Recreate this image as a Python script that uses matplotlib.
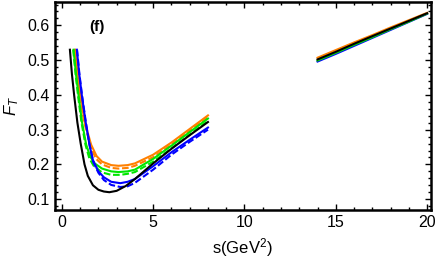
import matplotlib
matplotlib.use('Agg')
import matplotlib.pyplot as plt
from matplotlib.ticker import MultipleLocator

plt.rcParams['font.family'] = ['Liberation Sans', 'DejaVu Sans']
plt.rcParams['mathtext.fontset'] = 'custom'
plt.rcParams['mathtext.rm'] = 'Liberation Sans'
plt.rcParams['mathtext.it'] = 'Liberation Sans:italic'

# ---- data (s in GeV^2, F_T) ----
s_black = [0.44, 0.55, 0.67, 0.85, 1.03, 1.24, 1.42, 1.7, 2.0, 2.3, 2.6, 3.0, 3.5, 4.0, 5.0, 6.0, 7.0, 8.0]
F_black = [0.53, 0.46, 0.40, 0.32, 0.26, 0.200, 0.167, 0.140, 0.127, 0.122, 0.120, 0.124, 0.138, 0.158, 0.203, 0.245, 0.284, 0.322]

s_blue = [0.82, 0.95, 1.09, 1.3, 1.51, 1.7, 2.0, 2.3, 2.7, 3.2, 3.6, 4.0, 5.0, 6.0, 7.0, 8.0]
F_blue = [0.53, 0.46, 0.40, 0.322, 0.257, 0.212, 0.180, 0.163, 0.150, 0.146, 0.150, 0.158, 0.195, 0.235, 0.271, 0.306]
s_blue_d = [0.83, 0.96, 1.1, 1.31, 1.52, 1.72, 2.0, 2.3, 2.7, 3.2, 3.6, 4.0, 5.0, 6.0, 7.0, 8.0]
F_blue_d = [0.53, 0.46, 0.40, 0.322, 0.255, 0.207, 0.176, 0.155, 0.141, 0.135, 0.137, 0.147, 0.185, 0.228, 0.265, 0.300]

s_green = [0.64, 0.77, 0.91, 1.1, 1.33, 1.55, 1.79, 2.2, 2.7, 3.1, 3.6, 4.0, 5.0, 6.0, 7.0, 8.0]
F_green = [0.53, 0.46, 0.40, 0.322, 0.257, 0.223, 0.203, 0.188, 0.180, 0.178, 0.180, 0.185, 0.216, 0.254, 0.293, 0.332]
s_green_d = [0.62, 0.75, 0.88, 1.07, 1.29, 1.5, 1.75, 2.2, 2.7, 3.2, 3.6, 4.0, 5.0, 6.0, 7.0, 8.0]
F_green_d = [0.53, 0.46, 0.40, 0.322, 0.257, 0.218, 0.195, 0.177, 0.170, 0.170, 0.173, 0.178, 0.208, 0.246, 0.286, 0.325]

s_orange = [0.72, 0.86, 1.0, 1.25, 1.6, 1.9, 2.2, 2.7, 3.1, 3.6, 4.0, 5.0, 6.0, 7.0, 8.0]
F_orange = [0.53, 0.46, 0.40, 0.322, 0.257, 0.224, 0.208, 0.198, 0.196, 0.198, 0.203, 0.228, 0.263, 0.302, 0.341]
s_orange_d = [0.7, 0.84, 0.98, 1.22, 1.55, 1.85, 2.2, 2.7, 3.1, 3.6, 4.0, 5.0, 6.0, 7.0, 8.0]
F_orange_d = [0.53, 0.46, 0.40, 0.322, 0.257, 0.217, 0.200, 0.190, 0.188, 0.190, 0.196, 0.221, 0.257, 0.297, 0.337]

# high-s branch
s_high = [14, 15, 16, 17, 18, 19, 20]
F_high_black = [0.502, 0.524, 0.547, 0.569, 0.591, 0.613, 0.635]
F_high_orange = [0.507, 0.529, 0.551, 0.572, 0.594, 0.615, 0.636]
F_high_green = [0.499, 0.521, 0.544, 0.566, 0.589, 0.611, 0.634]
F_high_blue = [0.496, 0.518, 0.541, 0.564, 0.587, 0.610, 0.633]

orange = '#ff8000'
green = '#00e600'
blue = '#0000ff'
dash = (0, (3.2, 1.3))

fig = plt.figure(figsize=(4.36, 2.62), dpi=100)
ax = fig.add_axes([0.126, 0.2, 0.862, 0.792])

lw = 1.5
ax.plot(s_orange, F_orange, color=orange, lw=lw)
ax.plot(s_orange_d, F_orange_d, color=orange, lw=lw, ls=dash)
ax.plot(s_green, F_green, color=green, lw=lw)
ax.plot(s_green_d, F_green_d, color=green, lw=lw, ls=dash)
ax.plot(s_blue, F_blue, color=blue, lw=lw)
ax.plot(s_blue_d, F_blue_d, color=blue, lw=lw, ls=dash)
ax.plot(s_black, F_black, color='black', lw=lw)

ax.plot(s_high, F_high_blue, color=blue, lw=lw)
ax.plot(s_high, F_high_green, color=green, lw=lw)
ax.plot(s_high, F_high_orange, color=orange, lw=lw)
ax.plot(s_high, F_high_black, color='black', lw=lw)

ax.set_xlim(-0.38, 20.2)
ax.set_ylim(0.07, 0.667)
ax.xaxis.set_major_locator(MultipleLocator(5))
ax.xaxis.set_minor_locator(MultipleLocator(1))
ax.yaxis.set_major_locator(MultipleLocator(0.1))
ax.yaxis.set_minor_locator(MultipleLocator(0.02))
ax.tick_params(which='both', direction='in', top=True, right=True, labelsize=11.5, width=1.0)
ax.tick_params(which='major', length=4)
ax.tick_params(which='minor', length=2.2)
ax.tick_params(axis='x', pad=4)
ax.tick_params(axis='y', pad=4)
for sp in ax.spines.values():
    sp.set_linewidth(1.8)

ax.set_xlabel('s(GeV$^2$)', fontsize=12, labelpad=4)
ax.set_ylabel('$F_T$', fontsize=12, labelpad=4)
ax.text(1.9, 0.595, '(f)', fontsize=11, fontweight='bold', ha='center', va='center')

fig.savefig('out.png', dpi=100)
